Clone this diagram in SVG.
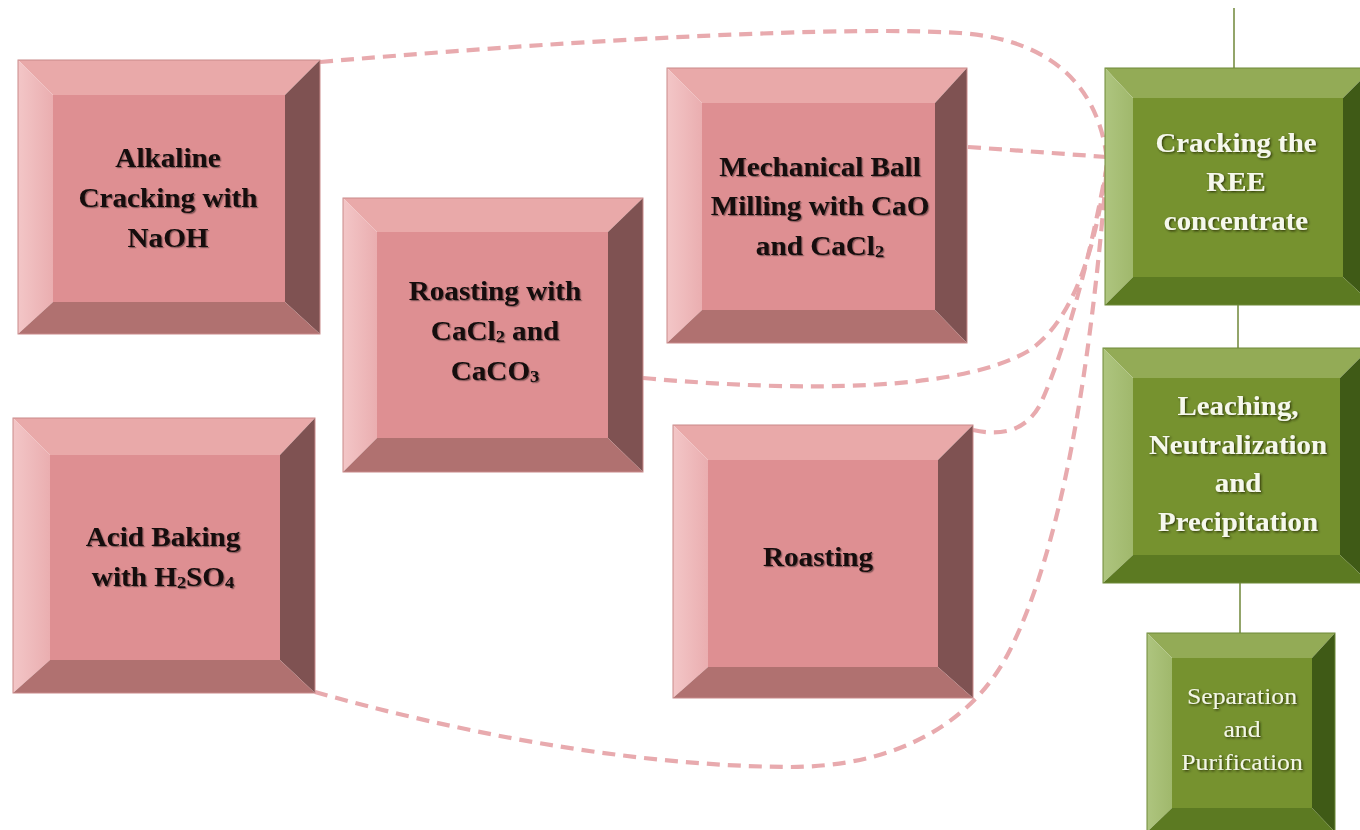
<svg xmlns="http://www.w3.org/2000/svg" width="1360" height="830" viewBox="0 0 1360 830">
<style>
.pf{fill:#de8f92}.pt{fill:#e9a9a9}.pl{fill:url(#pinkL)}.pr{fill:#7f5252}.pb{fill:#b07170}
.gf{fill:#76922f}.gt{fill:#93ab56}.gl{fill:url(#greenL)}.gr{fill:#3f5a16}.gb{fill:#5c7a22}
.po{fill:none;stroke:#c98a8a;stroke-width:1}
.go{fill:none;stroke:#6e8a38;stroke-width:1}
.tb{font-family:"Liberation Serif","Times New Roman",serif;font-weight:bold;font-size:27px;text-anchor:middle;fill:#120a0a;filter:url(#shD)}
.tw{font-family:"Liberation Serif","Times New Roman",serif;font-weight:bold;font-size:27px;text-anchor:middle;fill:#f6f8ec;filter:url(#shW)}
.tr{font-family:"Liberation Serif","Times New Roman",serif;font-size:23px;text-anchor:middle;fill:#f3f6e6;filter:url(#shW)}
.dash{fill:none;stroke:#e8aaae;stroke-width:4.2;stroke-dasharray:13 8}
.gline{fill:none;stroke:#93a56a;stroke-width:2}
</style>
<defs>
<linearGradient id="pinkL" x1="0" y1="0" x2="1" y2="0"><stop offset="0" stop-color="#f3c6c7"/><stop offset="1" stop-color="#eaaeb0"/></linearGradient>
<linearGradient id="greenL" x1="0" y1="0" x2="1" y2="0"><stop offset="0" stop-color="#aec57f"/><stop offset="1" stop-color="#a0b86c"/></linearGradient>
<filter id="shD" x="-10%" y="-30%" width="120%" height="160%"><feDropShadow dx="1.2" dy="1.2" stdDeviation="0.7" flood-color="#000" flood-opacity="0.4"/></filter>
<filter id="shW" x="-10%" y="-30%" width="120%" height="160%"><feDropShadow dx="1.2" dy="1.2" stdDeviation="0.8" flood-color="#1c2806" flood-opacity="0.85"/></filter>
</defs>
<rect width="1360" height="830" fill="#ffffff"/>

<g id="connectors">
<path class="gline" d="M1234,8 L1234,68"/>
<path class="gline" d="M1238,305 L1238,348"/>
<path class="gline" d="M1240,583 L1240,633"/>
<path class="dash" d="M320,62 C600,38 850,26 960,33 C1060,40 1100,95 1107,160"/>
<path class="dash" d="M968,147 L1107,157"/>
<path class="dash" d="M643,378 C800,392 960,392 1030,350 C1080,315 1098,230 1107,165"/>
<path class="dash" d="M973,430 C1000,436 1025,432 1040,405 C1065,350 1090,260 1107,165"/>
<path class="dash" d="M315,692 C450,730 620,765 785,767 C900,768 975,720 1010,650 C1060,550 1090,380 1107,165"/>
</g>

<g id="alkaline">
<polygon class="pt" points="18,60 320,60 285,95 53,95"/>
<polygon class="pl" points="18,60 53,95 53,302 18,334"/>
<polygon class="pr" points="320,60 320,334 285,302 285,95"/>
<polygon class="pb" points="18,334 320,334 285,302 53,302"/>
<rect class="pf" x="53" y="95" width="232" height="207"/>
<rect class="po" x="18" y="60" width="302" height="274"/>
<text class="tb" transform="translate(168 0) scale(1.08 1)"><tspan x="0" y="167">Alkaline</tspan><tspan x="0" y="207">Cracking with</tspan><tspan x="0" y="247">NaOH</tspan></text>
</g>

<g id="roasting-cacl2">
<polygon class="pt" points="343,198 643,198 608,232 377,232"/>
<polygon class="pl" points="343,198 377,232 377,438 343,472"/>
<polygon class="pr" points="643,198 643,472 608,438 608,232"/>
<polygon class="pb" points="343,472 643,472 608,438 377,438"/>
<rect class="pf" x="377" y="232" width="231" height="206"/>
<rect class="po" x="343" y="198" width="300" height="274"/>
<text class="tb" transform="translate(495 0) scale(1.08 1)"><tspan x="0" y="300">Roasting with</tspan><tspan x="0" y="340">CaCl</tspan><tspan font-size="17" dy="2">2</tspan><tspan dy="-2"> and</tspan><tspan x="0" y="380">CaCO</tspan><tspan font-size="17" dy="2">3</tspan></text>
</g>

<g id="ball-milling">
<polygon class="pt" points="667,68 967,68 935,103 702,103"/>
<polygon class="pl" points="667,68 702,103 702,310 667,343"/>
<polygon class="pr" points="967,68 967,343 935,310 935,103"/>
<polygon class="pb" points="667,343 967,343 935,310 702,310"/>
<rect class="pf" x="702" y="103" width="233" height="207"/>
<rect class="po" x="667" y="68" width="300" height="275"/>
<text class="tb" transform="translate(820 0) scale(1.08 1)"><tspan x="0" y="176">Mechanical Ball</tspan><tspan x="0" y="215">Milling with CaO</tspan><tspan x="0" y="255">and CaCl</tspan><tspan font-size="17" dy="2">2</tspan></text>
</g>

<g id="acid-baking">
<polygon class="pt" points="13,418 315,418 280,455 50,455"/>
<polygon class="pl" points="13,418 50,455 50,660 13,693"/>
<polygon class="pr" points="315,418 315,693 280,660 280,455"/>
<polygon class="pb" points="13,693 315,693 280,660 50,660"/>
<rect class="pf" x="50" y="455" width="230" height="205"/>
<rect class="po" x="13" y="418" width="302" height="275"/>
<text class="tb" transform="translate(163 0) scale(1.08 1)"><tspan x="0" y="546">Acid Baking</tspan><tspan x="0" y="586">with H</tspan><tspan font-size="17" dy="2">2</tspan><tspan dy="-2">SO</tspan><tspan font-size="17" dy="2">4</tspan></text>
</g>

<g id="roasting">
<polygon class="pt" points="673,425 973,425 938,460 708,460"/>
<polygon class="pl" points="673,425 708,460 708,667 673,698"/>
<polygon class="pr" points="973,425 973,698 938,667 938,460"/>
<polygon class="pb" points="673,698 973,698 938,667 708,667"/>
<rect class="pf" x="708" y="460" width="230" height="207"/>
<rect class="po" x="673" y="425" width="300" height="273"/>
<text class="tb" transform="translate(818 0) scale(1.08 1)"><tspan x="0" y="566">Roasting</tspan></text>
</g>

<g id="cracking-ree">
<polygon class="gt" points="1105,68 1373,68 1343,98 1133,98"/>
<polygon class="gl" points="1105,68 1133,98 1133,277 1105,305"/>
<polygon class="gr" points="1373,68 1373,305 1343,277 1343,98"/>
<polygon class="gb" points="1105,305 1373,305 1343,277 1133,277"/>
<rect class="gf" x="1133" y="98" width="210" height="179"/>
<rect class="go" x="1105" y="68" width="268" height="237"/>
<text class="tw" transform="translate(1236 0) scale(1.07 1)"><tspan x="0" y="152">Cracking the</tspan><tspan x="0" y="191">REE</tspan><tspan x="0" y="230">concentrate</tspan></text>
</g>

<g id="leaching">
<polygon class="gt" points="1103,348 1370,348 1340,378 1133,378"/>
<polygon class="gl" points="1103,348 1133,378 1133,555 1103,583"/>
<polygon class="gr" points="1370,348 1370,583 1340,555 1340,378"/>
<polygon class="gb" points="1103,583 1370,583 1340,555 1133,555"/>
<rect class="gf" x="1133" y="378" width="207" height="177"/>
<rect class="go" x="1103" y="348" width="267" height="235"/>
<text class="tw" transform="translate(1238 0) scale(1.07 1)"><tspan x="0" y="415">Leaching,</tspan><tspan x="0" y="454">Neutralization</tspan><tspan x="0" y="492">and</tspan><tspan x="0" y="531">Precipitation</tspan></text>
</g>

<g id="separation">
<polygon class="gt" points="1147,633 1335,633 1312,658 1172,658"/>
<polygon class="gl" points="1147,633 1172,658 1172,808 1147,832"/>
<polygon class="gr" points="1335,633 1335,832 1312,808 1312,658"/>
<polygon class="gb" points="1147,832 1335,832 1312,808 1172,808"/>
<rect class="gf" x="1172" y="658" width="140" height="150"/>
<rect class="go" x="1147" y="633" width="188" height="199"/>
<text class="tr" transform="translate(1242 0) scale(1.12 1)"><tspan x="0" y="704">Separation</tspan><tspan x="0" y="737">and</tspan><tspan x="0" y="770">Purification</tspan></text>
</g>
</svg>
